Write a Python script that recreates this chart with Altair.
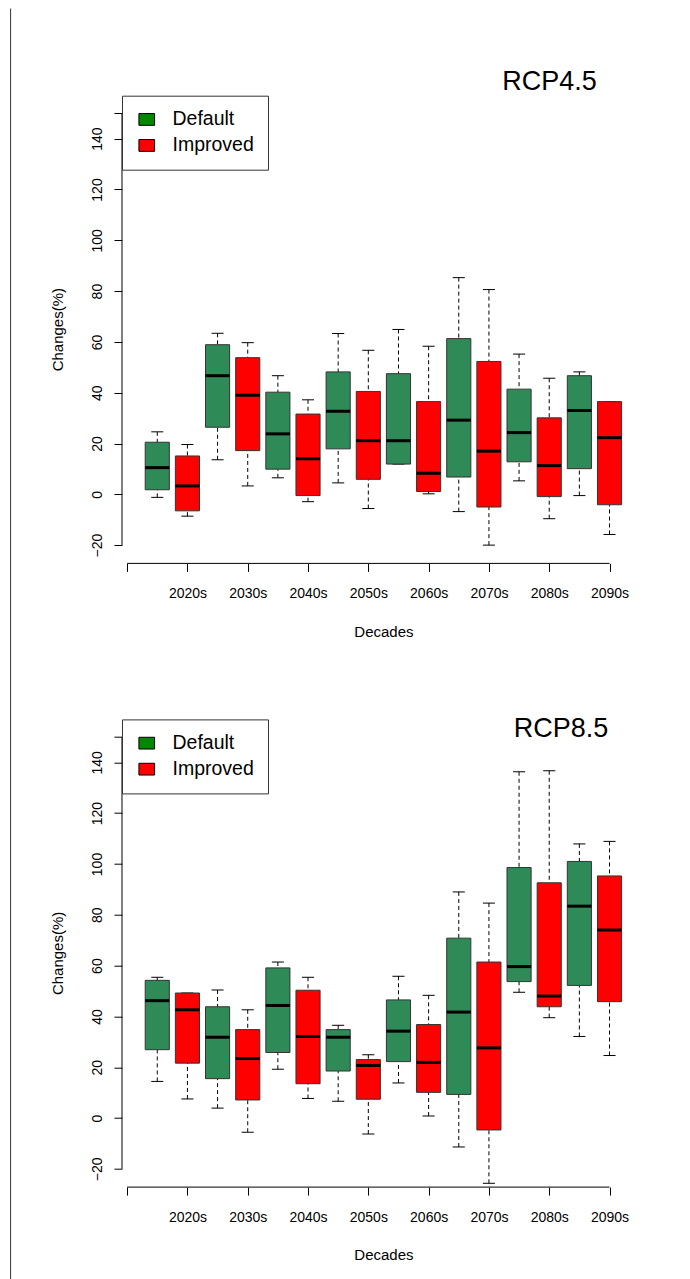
import altair as alt
import pandas as pd

decades = ["2020s", "2030s", "2040s", "2050s", "2060s", "2070s", "2080s", "2090s"]
schemes = ["Default", "Improved"]
panel_titles = ["RCP4.5", "RCP8.5"]
y_tick_values = [-20, 0, 20, 40, 60, 80, 100, 120, 140, 150]
x_tick_values = [0, 2, 4, 6, 8, 10, 12, 14, 16]

# Box statistics, per decade: Default then Improved
rcp45_low = [-1.2, -8.6, 13.6, 3.3, 6.5, -2.9, 4.5, -5.6, 11.9, 0.2, -6.8, -20.0, 5.3, -9.6, -0.5, -15.8]
rcp45_q1 = [1.8, -6.5, 26.4, 17.2, 9.9, -0.5, 17.9, 5.9, 11.9, 1.1, 6.8, -5.0, 12.8, -0.9, 10.1, -4.1]
rcp45_med = [10.5, 3.3, 46.7, 39.0, 23.8, 14.0, 32.7, 21.1, 21.1, 8.3, 29.2, 17.0, 24.3, 11.3, 33.0, 22.3]
rcp45_q3 = [20.5, 15.1, 58.9, 53.8, 40.2, 31.6, 48.2, 40.5, 47.5, 36.5, 61.3, 52.3, 41.4, 30.1, 46.7, 36.5]
rcp45_high = [24.6, 19.6, 63.4, 59.7, 46.7, 37.2, 63.3, 56.7, 64.9, 58.3, 85.3, 80.6, 55.2, 45.7, 48.2, 36.5]

rcp85_low = [14.4, 7.5, 3.9, -5.6, 19.2, 7.7, 6.6, -6.3, 13.8, 0.8, -11.4, -25.7, 49.5, 39.5, 32.1, 24.6]
rcp85_q1 = [26.9, 21.6, 15.5, 7.1, 25.8, 13.5, 18.5, 7.4, 22.2, 10.1, 9.3, -4.7, 53.7, 43.8, 52.2, 45.8]
rcp85_med = [46.2, 42.6, 31.8, 23.4, 44.3, 32.1, 31.8, 20.7, 34.2, 21.9, 41.7, 27.6, 59.6, 48.0, 83.4, 74.0]
rcp85_q3 = [54.2, 49.2, 43.8, 34.8, 59.1, 50.3, 34.8, 23.0, 46.5, 36.8, 70.8, 61.4, 98.6, 92.6, 101.0, 95.3]
rcp85_high = [55.4, 49.2, 50.4, 42.6, 61.4, 55.4, 36.5, 24.9, 55.8, 48.3, 89.0, 84.6, 136.3, 136.7, 107.9, 108.9]

box_fill = ["#2E8B57", "#FF0000"]
legend_fill = ["#008800", "#FF0000"]

FONT = "Liberation Sans"
W = 522.8
H = 466.4


def make_df(low, q1, med, q3, high):
    rows = []
    for i in range(len(med)):
        rows.append(dict(pos=i + 1, decade=decades[i // 2], scheme=schemes[i % 2],
                         low=low[i], q1=q1[i], med=med[i], q3=q3[i], high=high[i]))
    return pd.DataFrame(rows)


label_list = "[" + ",".join(["''"] + ["'%s'" % d for d in decades]) + "]"

xs = alt.Scale(domain=[-0.17, 17.17], nice=False, zero=False)
ys = alt.Scale(domain=[-26.8, 156.8], nice=False, zero=False)

xaxis = alt.Axis(values=x_tick_values, labelExpr=label_list + "[datum.value/2]",
                 domain=False, grid=False, tickSize=8, tickColor="black", offset=1,
                 labelFont=FONT, labelFontSize=14, labelColor="black",
                 labelBaseline="alphabetic", labelPadding=26, labelFlush=False,
                 labelOverlap=False, title="Decades", titleFont=FONT, titleFontSize=15,
                 titleFontWeight="normal", titleColor="black", titleX=W / 2, titleY=72.6,
                 titleBaseline="alphabetic", titleAlign="center")
yaxis = alt.Axis(values=y_tick_values, labelExpr="datum.value == 150 ? '' : datum.label",
                 domain=False, grid=False, tickSize=8, tickColor="black",
                 labelFont=FONT, labelFontSize=14, labelColor="black", labelAngle=270,
                 labelAlign="center", labelBaseline="alphabetic", labelPadding=12.5,
                 labelFlush=False, labelOverlap=False, title="Changes(%)", titleFont=FONT,
                 titleFontSize=15, titleFontWeight="normal", titleColor="black",
                 titleAngle=270, titleX=-64.5, titleY=H / 2, titleAlign="center",
                 titleBaseline="middle")


def X(f):
    return alt.X(f, type="quantitative", scale=xs, axis=xaxis)


def Y(f):
    return alt.Y(f, type="quantitative", scale=ys, axis=yaxis)


def panel(df, title_text, title_x, title_y, frame=False):
    base = alt.Chart(df).transform_calculate(
        xl="datum.pos - 0.4", xr="datum.pos + 0.4",
        cl="datum.pos - 0.2", cr="datum.pos + 0.2")

    dash = [4, 3]
    w_up = base.mark_rule(color="black", strokeWidth=1, strokeDash=dash).encode(
        x=X("pos"), y=Y("high"), y2="q3")
    w_lo = base.mark_rule(color="black", strokeWidth=1, strokeDash=dash).encode(
        x=X("pos"), y=Y("low"), y2="q1")
    cap_up = base.mark_rule(color="black", strokeWidth=1).encode(
        x=X("cl"), x2="cr", y=Y("high"))
    cap_lo = base.mark_rule(color="black", strokeWidth=1).encode(
        x=X("cl"), x2="cr", y=Y("low"))
    boxes = base.mark_rect(stroke="#333333", strokeWidth=1).encode(
        x=X("xl"), x2="xr", y=Y("q1"), y2="q3",
        fill=alt.Fill("scheme:N", scale=alt.Scale(domain=schemes, range=box_fill), legend=None))
    meds = base.mark_rule(color="black", strokeWidth=3).encode(
        x=X("xl"), x2="xr", y=Y("med"))
    leg = base.mark_point(shape="M-1,-0.75H1V0.75H-1Z", filled=True, opacity=0, size=246).encode(
        x=X("pos"), y=Y("med"),
        color=alt.Color("scheme:N", scale=alt.Scale(domain=schemes, range=legend_fill),
                        legend=alt.Legend(title=None, orient="none", legendX=0, legendY=-0.3,
                                          padding=14, fillColor="white", strokeColor="#333333",
                                          cornerRadius=0, symbolType="M-1,-0.75H1V0.75H-1Z",
                                          symbolSize=246, symbolStrokeColor="black",
                                          symbolStrokeWidth=1, symbolOpacity=1,
                                          symbolOffset=1, labelOffset=16,
                                          labelFont=FONT, labelFontSize=19.5, labelColor="black",
                                          labelBaseline="middle", rowPadding=5)))

    yline = alt.Chart(pd.DataFrame({"y0": [min(y_tick_values)], "y1": [max(y_tick_values)]})).mark_rule(
        color="black", strokeWidth=1).encode(x=alt.value(0), y=Y("y0"), y2="y1")
    xline = alt.Chart(pd.DataFrame({"x0": [min(x_tick_values)], "x1": [max(x_tick_values)]})).mark_rule(
        color="black", strokeWidth=1).encode(x=X("x0"), x2="x1", y=alt.value(H + 1))

    title = alt.Chart(pd.DataFrame({"t": [title_text]})).mark_text(
        font=FONT, fontSize=27, align="center", baseline="alphabetic", color="black").encode(
        text="t:N", x=alt.value(title_x), y=alt.value(title_y))

    layers = [leg, w_up, w_lo, cap_up, cap_lo, boxes, meds, yline, xline, title]
    if frame:
        fl = alt.Chart(pd.DataFrame({"k": [0]})).mark_rule(color="#333333", strokeWidth=1).encode(
            x=alt.value(-111.4), y=alt.value(-87.5), y2=alt.value(1183))
        layers.append(fl)
    return alt.layer(*layers).properties(width=W, height=H)


top = panel(make_df(rcp45_low, rcp45_q1, rcp45_med, rcp45_q3, rcp45_high),
            panel_titles[0], 427.6, -6, frame=True)
bottom = panel(make_df(rcp85_low, rcp85_q1, rcp85_med, rcp85_q3, rcp85_high),
               panel_titles[1], 439.1, 17.6)

chart = alt.vconcat(top, bottom, spacing=156.7, bounds="flush").resolve_scale(
    x="independent", y="independent", color="independent", fill="independent"
).resolve_legend(color="independent").properties(
    padding={"left": 2, "top": 0, "right": 0, "bottom": 0}, background="white"
).configure(font=FONT).configure_view(stroke="transparent", strokeWidth=0)

chart.save("out.html", embed_options={"renderer": "svg", "actions": False})
